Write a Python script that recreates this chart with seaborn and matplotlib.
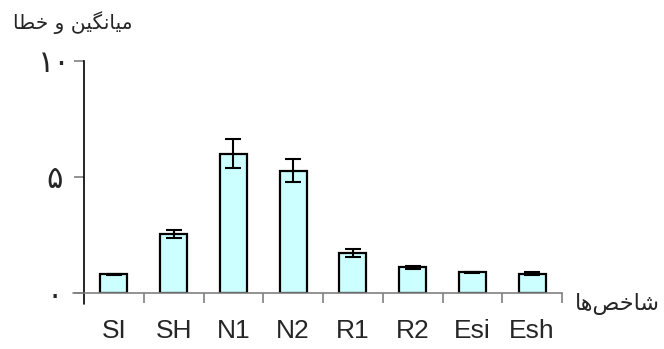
import matplotlib
matplotlib.use("Agg")
import matplotlib.pyplot as plt
import seaborn as sns
import pandas as pd
import numpy as np

categories = ["SI", "SH", "N1", "N2", "R1", "R2", "Esi", "Esh"]
means = [0.81, 2.55, 6.0, 5.28, 1.72, 1.10, 0.90, 0.83]
errors = [0.02, 0.17, 0.63, 0.51, 0.18, 0.05, 0.02, 0.06]
ytick_values = [0, 5, 10]
ytick_labels = ["۰", "۵", "۱۰"]
y_title = "میانگین و خطا"
x_title = "شاخص‌ها"

# minimal Persian shaping (isolated, final, initial, medial)
FORMS = {
    "م": ("\uFEE1", "\uFEE2", "\uFEE3", "\uFEE4"),
    "ی": ("\uFBFC", "\uFBFD", "\uFBFE", "\uFBFF"),
    "ا": ("\uFE8D", "\uFE8E", None, None),
    "ن": ("\uFEE5", "\uFEE6", "\uFEE7", "\uFEE8"),
    "گ": ("\uFB92", "\uFB93", "\uFB94", "\uFB95"),
    "و": ("\uFEED", "\uFEEE", None, None),
    "خ": ("\uFEA5", "\uFEA6", "\uFEA7", "\uFEA8"),
    "ط": ("\uFEC1", "\uFEC2", "\uFEC3", "\uFEC4"),
    "ش": ("\uFEB5", "\uFEB6", "\uFEB7", "\uFEB8"),
    "ص": ("\uFEB9", "\uFEBA", "\uFEBB", "\uFEBC"),
    "ه": ("\uFEE9", "\uFEEA", "\uFEEB", "\uFEEC"),
}


def shape(text):
    chars = [c for c in text]
    out = []
    for i, c in enumerate(chars):
        if c not in FORMS:
            if c != "\u200c":
                out.append(c)
            continue
        prev = chars[i - 1] if i > 0 else None
        nxt = chars[i + 1] if i + 1 < len(chars) else None
        join_prev = prev in FORMS and FORMS[prev][2] is not None
        join_next = nxt in FORMS and FORMS[c][2] is not None
        f = FORMS[c]
        if join_prev and join_next:
            out.append(f[3])
        elif join_prev:
            out.append(f[1])
        elif join_next:
            out.append(f[2])
        else:
            out.append(f[0])
    return "".join(reversed(out))


sns.set_theme(style="white")
plt.rcParams["font.family"] = ["DejaVu Sans"]

df = pd.DataFrame({"cat": categories, "val": means})

fig = plt.figure(figsize=(6.64, 3.49), dpi=100)
ax = fig.add_axes([84 / 664, 56 / 349, 478 / 664, 232 / 349])

sns.barplot(data=df, x="cat", y="val", color="#CCFFFF", saturation=1,
            edgecolor="black", linewidth=1.6, width=0.45, errorbar=None, ax=ax)
ax.errorbar(np.arange(len(categories)), means, yerr=errors, fmt="none",
            ecolor="black", elinewidth=1.5, capsize=5.5, capthick=1.5, zorder=5)

ax.set_xlim(-0.5, len(categories) - 0.5)
ax.set_ylim(0, 10)
ax.set_xlabel("")
ax.set_ylabel("")

for s in ["top", "right"]:
    ax.spines[s].set_visible(False)
ax.spines["left"].set_color("black")
ax.spines["left"].set_linewidth(1.2)
ax.spines["bottom"].set_color("#808080")
ax.spines["bottom"].set_linewidth(1.2)

# extensions of axes beyond origin (Excel style)
ext = 11 / 232
ax.plot([0, 0], [0, -ext], transform=ax.transAxes, color="black", lw=1.2, clip_on=False)
ax.plot([-11 / 478, 0], [0, 0], transform=ax.transAxes, color="#808080", lw=1.2, clip_on=False)

ax.set_yticks(ytick_values)
ax.set_yticklabels(ytick_labels, fontsize=22, ha="center")
ax.tick_params(axis="y", direction="out", length=7.5, width=1.2, color="#808080", pad=14, left=True)

ax.set_xticks(np.arange(len(categories)))
ax.set_xticklabels(categories, fontsize=19, family=["Liberation Sans", "DejaVu Sans"])
ax.tick_params(axis="x", which="major", length=0, pad=18.5)
ax.set_xticks(np.arange(0.5, len(categories)), minor=True)
ax.tick_params(axis="x", which="minor", direction="out", length=7.5, width=1.2, color="#808080", bottom=True)

fig.text(13 / 664, 1 - 23 / 349, shape(y_title), fontsize=14.5, ha="left", va="center")
fig.text(575 / 664, 1 - 304 / 349, shape(x_title), fontsize=16, ha="left", va="center")

fig.savefig("out.png", dpi=100)
